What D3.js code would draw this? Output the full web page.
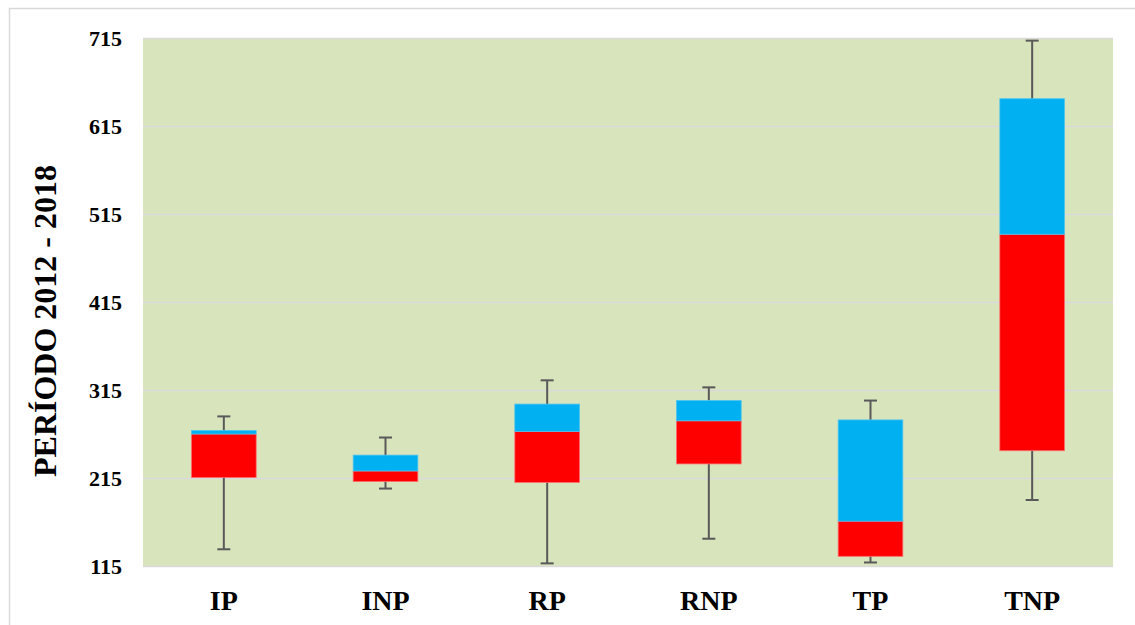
<!DOCTYPE html>
<html>
<head>
<meta charset="utf-8">
<script src="https://cdn.jsdelivr.net/npm/d3@7"></script>
<style>
    body { margin: 0; background: #fff; }
    svg { display: block; }
    .tick-label { font-family: "Liberation Serif", "Times New Roman", serif; font-weight: bold; }
</style>
</head>
<body>
<div id="viz"></div>
<script>
// data
var categories = ['IP', 'INP', 'RP', 'RNP', 'TP', 'TNP'];
var whiskerMin = [134, 203, 118, 146, 119, 190];
var q1         = [215.5, 211, 210, 231, 126, 246];
var median     = [265, 223, 268, 280, 166, 492];
var q3         = [269, 241, 299, 303, 281, 646];
var whiskerMax = [285, 261, 326, 318, 303, 712];
var yTicks = [115, 215, 315, 415, 515, 615, 715];

var BoxChart = function(){
    var obj = {};
    var W = 1135, H = 625;
    var margin = {top: 38, right: 22, bottom: 59, left: 143};
    var width = W - margin.left - margin.right;
    var height = H - margin.top - margin.bottom;
    var svg, chart, xScale, yScale;

    obj.setup = function(){
        svg = d3.select('#viz')
            .append('svg')
            .attr('width', W)
            .attr('height', H)
            ;
        // outer chart frame (right / bottom fall outside the picture)
        svg.append('rect')
            .attr('x', 9.5)
            .attr('y', 8.5)
            .attr('width', W + 10)
            .attr('height', H + 10)
            .attr('fill', 'none')
            .attr('stroke', '#d9d9d9')
            .attr('stroke-width', 1.5)
            ;
        chart = svg.append('g')
            .attr('transform', 'translate(' + margin.left + ',' + margin.top + ')')
            ;
    };

    obj.update = function(){
        var data = categories.map(function(c, i){
            return {name: c, min: whiskerMin[i], q1: q1[i], med: median[i], q3: q3[i], max: whiskerMax[i]};
        });

        /*----- SCALES ----*/
        yScale = d3.scaleLinear()
            .domain([115, 715])
            .range([height, 0])
            ;
        xScale = d3.scaleBand()
            .domain(categories)
            .range([0, width])
            .padding(0)
            ;
        var boxW = xScale.bandwidth() * 0.4;
        var capW = 13;

        // plot background
        chart.append('rect')
            .attr('width', width)
            .attr('height', height)
            .attr('fill', '#d8e4bc')
            ;

        /*----- AXIS -----*/
        var yAxis = d3.axisLeft(yScale)
            .tickValues(yTicks)
            .tickSize(-width)
            .tickPadding(21)
            ;
        var gy = chart.append('g')
            .attr('class', 'y axis')
            .call(yAxis)
            ;
        gy.select('.domain').remove();
        gy.selectAll('line')
            .attr('stroke', '#d9d9d9')
            .attr('stroke-width', 1.5)
            ;
        gy.selectAll('text')
            .attr('class', 'tick-label')
            .attr('fill', '#000')
            .style('font-size', '22px')
            ;

        var xAxis = d3.axisBottom(xScale)
            .tickSize(0)
            .tickPadding(24)
            ;
        var gx = chart.append('g')
            .attr('class', 'x axis')
            .attr('transform', 'translate(0,' + height + ')')
            .call(xAxis)
            ;
        gx.select('.domain').remove();
        gx.selectAll('text')
            .attr('class', 'tick-label')
            .attr('fill', '#000')
            .style('font-size', '28px')
            ;

        // y title
        svg.append('text')
            .attr('class', 'tick-label')
            .attr('transform', 'translate(56,' + 321 + ') rotate(-90)')
            .attr('text-anchor', 'middle')
            .style('font-size', '32px')
            .text('PERÍODO 2012 - 2018')
            ;

        /*----- DRAWING -----*/
        var boxes = chart.selectAll('.box')
            .data(data)
            .enter()
            .append('g')
            .attr('class', 'box')
            .attr('transform', function(d){ return 'translate(' + (xScale(d.name) + xScale.bandwidth() / 2) + ',0)'; })
            ;
        // whiskers
        boxes.append('line')
            .attr('x1', 0).attr('x2', 0)
            .attr('y1', function(d){ return yScale(d.max); })
            .attr('y2', function(d){ return yScale(d.min); })
            .attr('stroke', '#595959')
            .attr('stroke-width', 2)
            ;
        boxes.append('line')
            .attr('x1', -capW / 2).attr('x2', capW / 2)
            .attr('y1', function(d){ return yScale(d.max); })
            .attr('y2', function(d){ return yScale(d.max); })
            .attr('stroke', '#595959')
            .attr('stroke-width', 2)
            ;
        boxes.append('line')
            .attr('x1', -capW / 2).attr('x2', capW / 2)
            .attr('y1', function(d){ return yScale(d.min); })
            .attr('y2', function(d){ return yScale(d.min); })
            .attr('stroke', '#595959')
            .attr('stroke-width', 2)
            ;
        // lower half (q1 -> median)
        boxes.append('rect')
            .attr('x', -boxW / 2)
            .attr('width', boxW)
            .attr('y', function(d){ return yScale(d.med); })
            .attr('height', function(d){ return yScale(d.q1) - yScale(d.med); })
            .attr('fill', '#ff0000')
            .attr('stroke', '#ff6b6b')
            .attr('stroke-width', 0.8)
            ;
        // upper half (median -> q3)
        boxes.append('rect')
            .attr('x', -boxW / 2)
            .attr('width', boxW)
            .attr('y', function(d){ return yScale(d.q3); })
            .attr('height', function(d){ return yScale(d.med) - yScale(d.q3); })
            .attr('fill', '#00b0f0')
            .attr('stroke', '#4cc4f0')
            .attr('stroke-width', 0.8)
            ;
    };
    return obj;
};

var chart = BoxChart();
chart.setup();
chart.update();
</script>
</body>
</html>
